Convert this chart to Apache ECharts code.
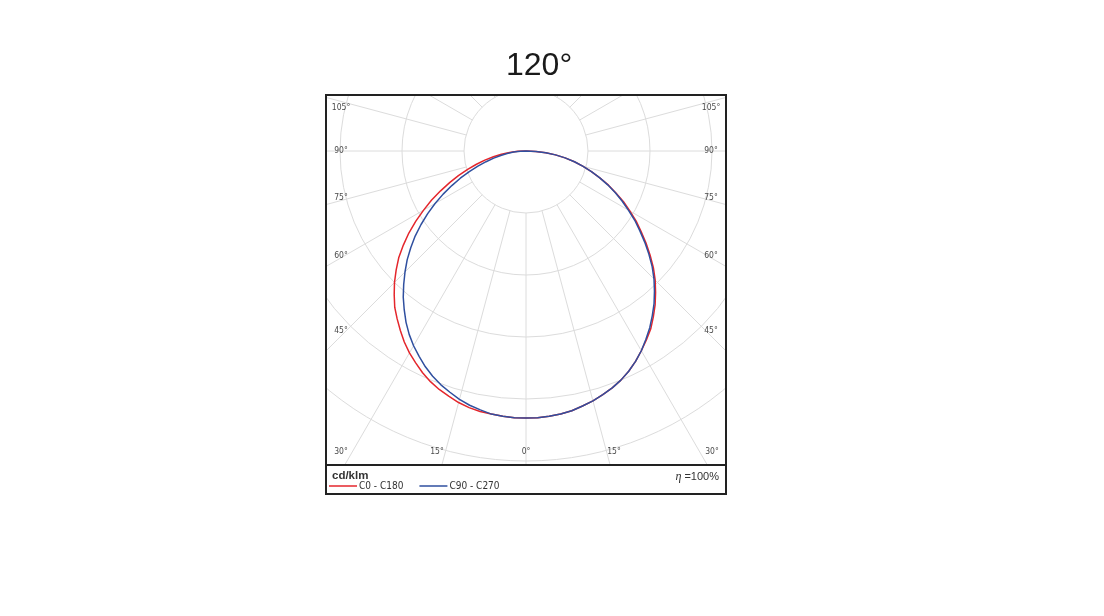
<!DOCTYPE html>
<html><head><meta charset="utf-8">
<script src="https://cdn.jsdelivr.net/npm/echarts@6/dist/echarts.min.js"></script>
<style>html,body{margin:0;padding:0;background:#fff}#c{width:1104px;height:616px}</style>
</head><body><div id="c"></div>
<script>
// gamma angles (deg from nadir)
const gammaAngles = [0,2.5,5,7.5,10,12.5,15,17.5,20,22.5,25,27.5,30,32.5,35,37.5,40,42.5,45,47.5,50,52.5,55,57.5,60,62.5,65,67.5,70,72.5,75,77.5,80,82.5,85,87.5,90];
// luminous intensity, cd/klm
const c0   = [323,323,322,321,319,316,313,309,305,300,294,287,279,271,263,253,243,232,221,209,196,183,170,158,145,133,120,108,95,83,71,60,48,36,24,12,0];   // right, red
const c180 = [323,323,322,321,320,318,315,311,307,302,296,289,282,274,265,256,247,236,225,213,201,187,173,158,143,129,114,100,87,74,62,51,40,30,20,10,0];  // left, red
const c90  = [323,323,322,321,319,316,313,309,305,300,294,287,279,270,261,251,241,230,219,207,194,181,168,156,143,131,119,107,95,83,71,60,48,36,24,12,0];   // right, blue
const c270 = [323,323,322,321,318,315,311,306,301,295,288,280,272,263,253,242,231,219,207,195,182,169,155,141,127,113,99,86,73,61,50,40,31,23,15,7,0];      // left, blue
const seriesNames = ['C0 - C180','C90 - C270'];
const leftTickLabels = ['105°','90°','75°','60°','45°'];
const rightTickLabels = ['105°','90°','75°','60°','45°'];
const bottomTickLabels = ['30°','15°','0°','15°','30°'];
const titleText = '120°';
const unitText = 'cd/klm';
const effText = '=100%';

function buildCurve(leftArr, rightArr) {
  const pts = [];
  for (let i = gammaAngles.length - 1; i >= 0; i--) pts.push([leftArr[i], -gammaAngles[i]]);
  for (let i = 1; i < gammaAngles.length; i++) pts.push([rightArr[i], gammaAngles[i]]);
  return pts;
}

const FF = '"Liberation Sans Narrow","DejaVu Sans Condensed","Liberation Sans",sans-serif';
const gridColor = '#dcdcdc';
const labelColor = '#4a4a4a';
const sideY = [108,151,198,256,331];
const bottomX = [341,437,526,614,712];
const graphics = [
  {type:'rect', z:50, silent:true, shape:{x:0,y:0,width:1104,height:95}, style:{fill:'#fff'}},
  {type:'rect', z:50, silent:true, shape:{x:0,y:464,width:1104,height:152}, style:{fill:'#fff'}},
  {type:'rect', z:50, silent:true, shape:{x:0,y:0,width:326,height:616}, style:{fill:'#fff'}},
  {type:'rect', z:50, silent:true, shape:{x:726,y:0,width:378,height:616}, style:{fill:'#fff'}},
  {type:'rect', z:60, silent:true, shape:{x:326,y:95,width:400,height:399}, style:{fill:'none', stroke:'#222', lineWidth:2}},
  {type:'line', z:60, silent:true, shape:{x1:326,y1:465,x2:726,y2:465}, style:{stroke:'#222', lineWidth:2}},
  {type:'text', z:70, silent:true, style:{text:unitText, x:332, y:476, align:'left', verticalAlign:'middle', fontSize:11.5, fontWeight:'bold', fontFamily:'"Liberation Sans",sans-serif', fill:'#333'}},
  {type:'text', z:70, silent:true, style:{text:'{i|η} ' + effText, x:719, y:477, align:'right', verticalAlign:'middle', fontSize:11, fontFamily:'"Liberation Sans",sans-serif', fill:'#333', rich:{i:{fontStyle:'italic', fontSize:12, fontFamily:'"Liberation Serif",serif', fill:'#333'}}}}
];
leftTickLabels.forEach((t,i)=>graphics.push({type:'text', z:70, silent:true, style:{text:t, x:341, y:sideY[i], align:'center', verticalAlign:'middle', fontSize:8.5, fontFamily:FF, fill:labelColor}}));
rightTickLabels.forEach((t,i)=>graphics.push({type:'text', z:70, silent:true, style:{text:t, x:711, y:sideY[i], align:'center', verticalAlign:'middle', fontSize:8.5, fontFamily:FF, fill:labelColor}}));
bottomTickLabels.forEach((t,i)=>graphics.push({type:'text', z:70, silent:true, style:{text:t, x:bottomX[i], y:452, align:'center', verticalAlign:'middle', fontSize:8.5, fontFamily:FF, fill:labelColor}}));

const hidden = {axisLine:{show:false}, axisTick:{show:false}, axisLabel:{show:false}, splitLine:{show:false}};
const chart = echarts.init(document.getElementById('c'), null, {renderer:'canvas'});
chart.setOption({
  animation:false,
  backgroundColor:'#fff',
  title:{text:titleText, left:506, top:50, padding:0, z:100, textStyle:{fontSize:32, fontWeight:'normal', fontFamily:'"Liberation Sans",Arial,sans-serif', color:'#1a1a1a'}},
  legend:{data:seriesNames, left:329, top:481, padding:0, itemWidth:28, itemHeight:1.5, itemGap:16, icon:'rect', z:100, selectedMode:false,
    textStyle:{fontSize:10, fontFamily:FF, color:'#333', padding:[0,0,0,-3]}},
  polar:[{center:[526,151], radius:[62,434]}, {center:[526,151], radius:[0,372]}],
  angleAxis:[
    {polarIndex:0, type:'value', min:-180, max:180, interval:15, startAngle:90, clockwise:false, z:0,
      axisLine:{show:false}, axisTick:{show:false}, axisLabel:{show:false},
      splitLine:{show:true, lineStyle:{color:gridColor, width:1}}},
    Object.assign({polarIndex:1, type:'value', min:-180, max:180, interval:15, startAngle:90, clockwise:false}, hidden)
  ],
  radiusAxis:[
    {polarIndex:0, type:'value', min:0, max:6, interval:1, z:0,
      axisLine:{show:false}, axisTick:{show:false}, axisLabel:{show:false},
      splitLine:{show:true, lineStyle:{color:gridColor, width:1}}},
    Object.assign({polarIndex:1, type:'value', min:0, max:450}, hidden)
  ],
  graphic:{elements:graphics},
  series:[
    {name:seriesNames[0], type:'line', coordinateSystem:'polar', polarIndex:1, data:buildCurve(c180,c0),
      smooth:false, symbol:'none', z:3, lineStyle:{color:'#e4262c', width:1.5, join:'round'}, itemStyle:{color:'#e4262c'}},
    {name:seriesNames[1], type:'line', coordinateSystem:'polar', polarIndex:1, data:buildCurve(c270,c90),
      smooth:false, symbol:'none', z:4, lineStyle:{color:'#2f4f9f', width:1.5, join:'round'}, itemStyle:{color:'#2f4f9f'}}
  ]
});
</script></body></html>
